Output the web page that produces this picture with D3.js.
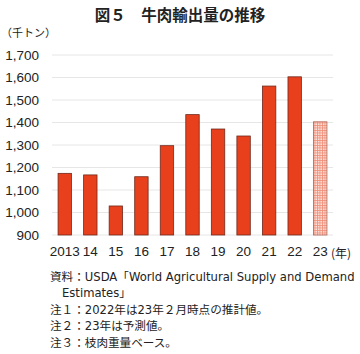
<!DOCTYPE html>
<html>
<head>
<meta charset="utf-8">
<script src="https://cdn.jsdelivr.net/npm/d3@7"></script>
<style>
  body { margin: 0; background: #fff; }
  svg text { font-family: "Liberation Sans", "Noto Sans CJK JP", sans-serif; fill: #222; }
  .jp { font-family: "Noto Sans CJK JP", sans-serif; }
  .note { font-family: "DejaVu Sans", "Noto Sans CJK JP", sans-serif; }
</style>
</head>
<body>
<div id="chart"></div>
<script>
// data (thousand tonnes)
var years = ["2013", "14", "15", "16", "17", "18", "19", "20", "21", "22", "23"];
var exports = [1174, 1167, 1029, 1159, 1297, 1435, 1371, 1340, 1562, 1603, 1403];
var forecastYear = "23";
var yTicks = [900, 1000, 1100, 1200, 1300, 1400, 1500, 1600, 1700];
var notes = [
  "資料：USDA「World Agricultural Supply and Demand",
  "Estimates」",
  "注１：2022年は23年２月時点の推計値。",
  "注２：23年は予測値。",
  "注３：枝肉重量ベース。"
];

var svgWidth = 360;
var svgHeight = 354;
var margin = { top: 55, right: 27, bottom: 119, left: 52 };
var width = svgWidth - margin.left - margin.right;
var height = svgHeight - margin.top - margin.bottom;

var svg = d3.select("#chart").append("svg")
  .attr("width", svgWidth)
  .attr("height", svgHeight);

// hatch pattern for the forecast bar
var defs = svg.append("defs");
var pat = defs.append("pattern")
  .attr("id", "grid")
  .attr("width", 2.5)
  .attr("height", 2.5)
  .attr("patternUnits", "userSpaceOnUse");
pat.append("rect").attr("width", 2.5).attr("height", 2.5).attr("fill", "#fce4dc");
pat.append("path").attr("d", "M0 0.5H2.5M0.5 0V2.5")
  .attr("stroke", "#ee8a74").attr("stroke-width", 0.8);

svg.append("text")
  .attr("class", "jp")
  .attr("x", 180)
  .attr("y", 21)
  .attr("text-anchor", "middle")
  .attr("font-size", 15.5)
  .attr("font-weight", "bold")
  .text("図５　牛肉輸出量の推移");

svg.append("text")
  .attr("class", "jp")
  .attr("x", 1)
  .attr("y", 37)
  .attr("font-size", 11)
  .text("（千トン）");

var chartGroup = svg.append("g")
  .attr("transform", `translate(${margin.left}, ${margin.top})`);

var x = d3.scaleBand()
  .domain(years)
  .range([0, width])
  .paddingInner(0.475)
  .paddingOuter(0.2375);

var y = d3.scaleLinear()
  .domain([900, 1700])
  .range([height, 0]);

// gridlines
chartGroup.append("g")
  .selectAll("line")
  .data(yTicks)
  .enter()
  .append("line")
  .attr("x1", 0)
  .attr("x2", width)
  .attr("y1", d => y(d))
  .attr("y2", d => y(d))
  .attr("stroke", "#e6e6e6")
  .attr("stroke-width", 1);

var yAxis = d3.axisLeft(y).tickValues(yTicks).tickFormat(d3.format(",")).tickSize(0).tickPadding(13);
var yg = chartGroup.append("g").call(yAxis);
yg.select(".domain").remove();
yg.selectAll("text").attr("font-size", 13.5).style("font-family", "Liberation Sans, sans-serif").attr("fill", "#222");

var xAxis = d3.axisBottom(x).tickSize(0).tickPadding(11);
var xg = chartGroup.append("g")
  .attr("transform", `translate(0, ${height})`)
  .call(xAxis);
xg.select(".domain").remove();
xg.selectAll("text").attr("font-size", 13.5).style("font-family", "Liberation Sans, sans-serif").attr("fill", "#222");

chartGroup.append("text")
  .attr("class", "jp")
  .attr("x", width - 2)
  .attr("y", height + 23)
  .attr("font-size", 12)
  .text("(年)");

chartGroup.selectAll("rect.bar")
  .data(years)
  .enter()
  .append("rect")
  .attr("class", "bar")
  .attr("x", d => x(d))
  .attr("y", (d, i) => y(exports[i]))
  .attr("width", x.bandwidth())
  .attr("height", (d, i) => height - y(exports[i]))
  .attr("fill", d => d === forecastYear ? "url(#grid)" : "#e8401c")
  .attr("stroke", d => d === forecastYear ? "#b06050" : "#6e2a1c")
  .attr("stroke-width", 0.8);

svg.append("g")
  .selectAll("text")
  .data(notes)
  .enter()
  .append("text")
  .attr("class", "note")
  .attr("x", (d, i) => i === 1 ? 62 : 50)
  .attr("y", (d, i) => 281 + i * 16.4)
  .attr("font-size", 11.6)
  .text(d => d);
</script>
</body>
</html>
